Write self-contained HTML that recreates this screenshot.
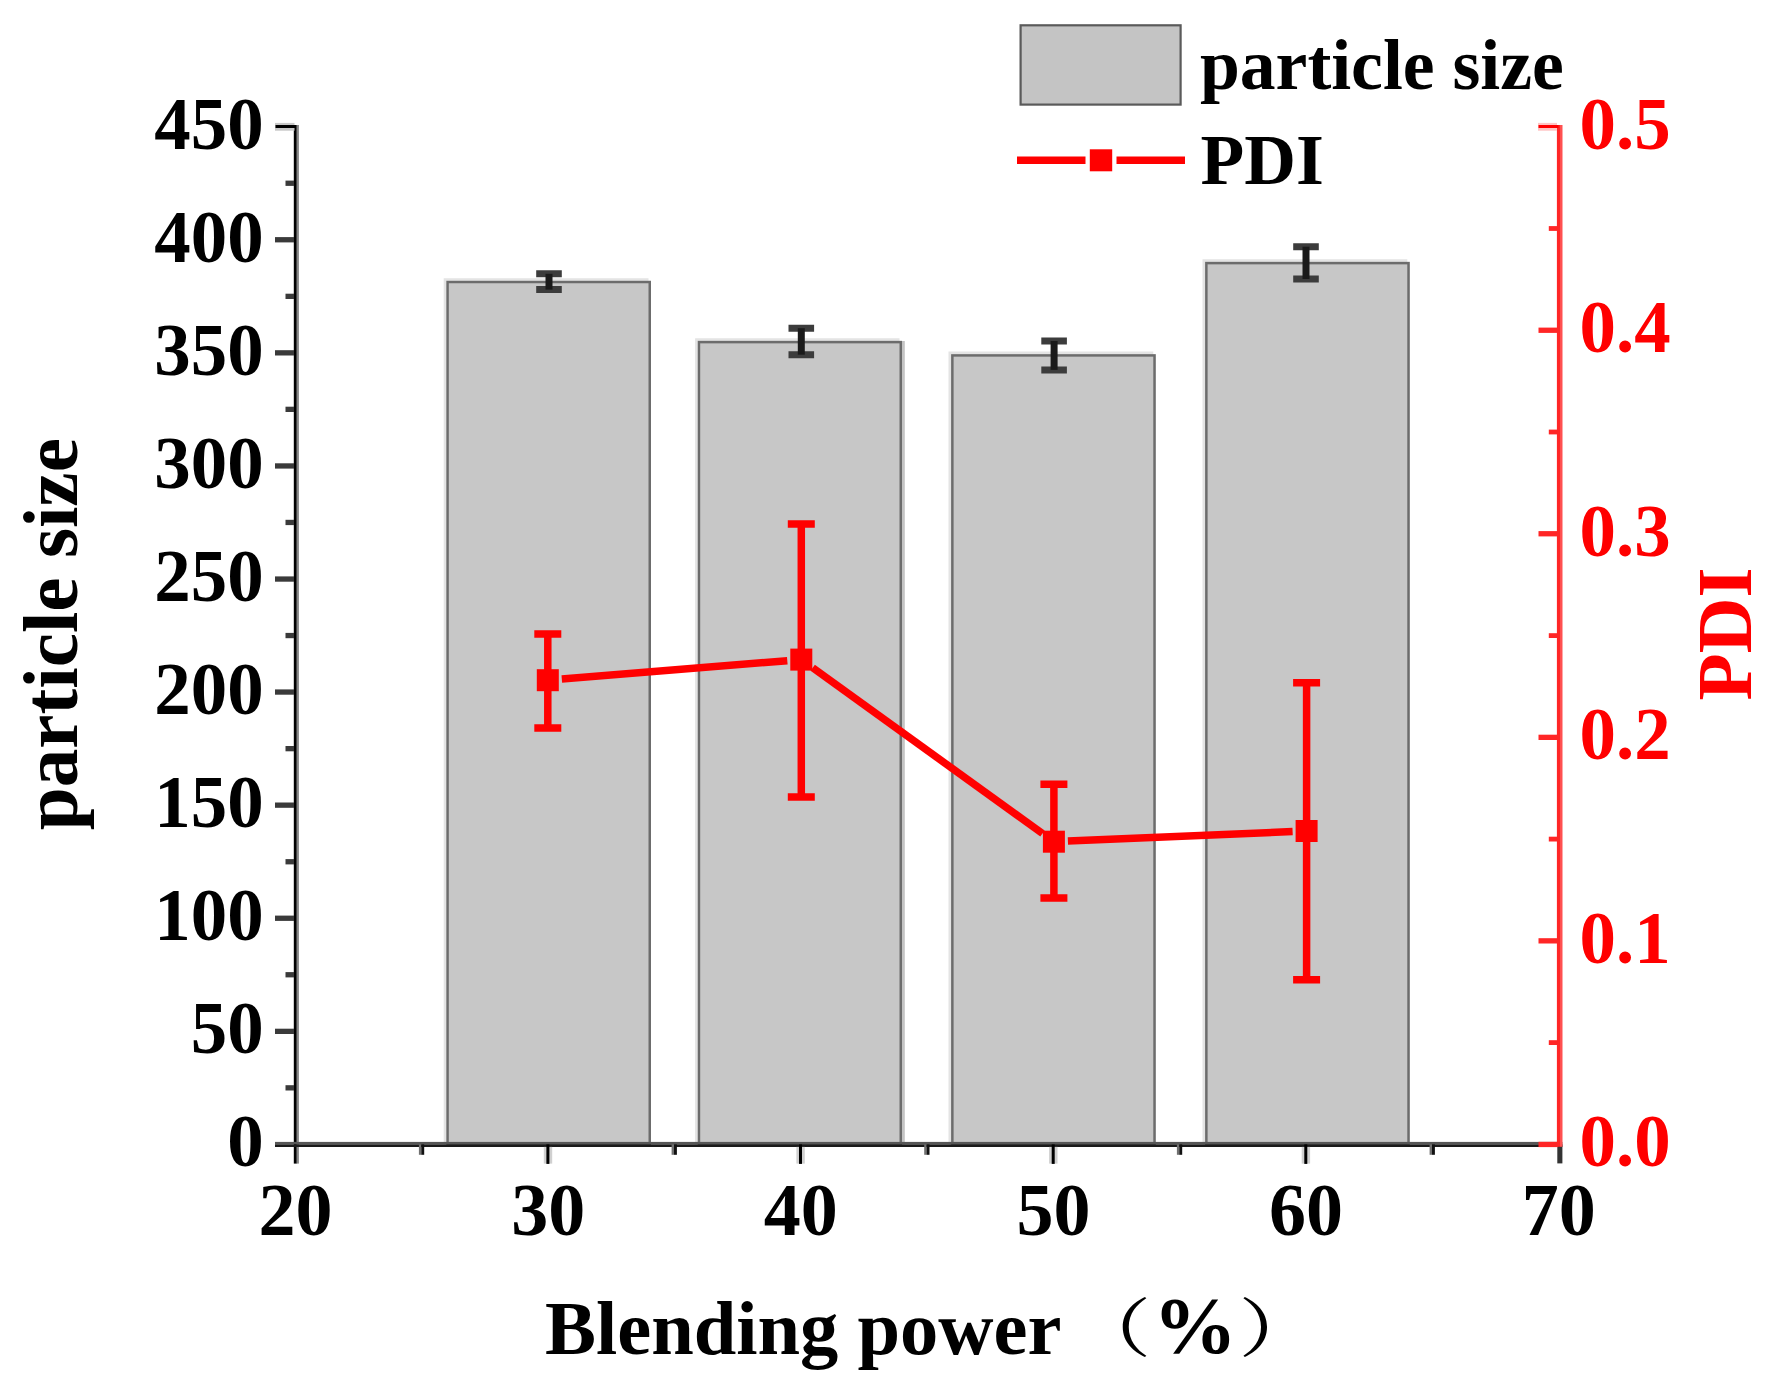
<!DOCTYPE html>
<html lang="en"><head><meta charset="utf-8"><title>Blending power chart</title>
<style>
html,body{margin:0;padding:0;background:#fff;}
body{width:1778px;height:1374px;overflow:hidden;}
svg{display:block;}
text{font-family:"Liberation Serif","Noto Serif CJK SC",serif;font-weight:bold;}
.cjk{font-family:"Noto Serif CJK SC","Noto Sans CJK SC",serif;font-weight:500;}
</style></head><body>
<svg width="1778" height="1374" viewBox="0 0 1778 1374">
<rect x="0" y="0" width="1778" height="1374" fill="#fff"/>

<g fill="none" stroke="#e4e4e4" stroke-width="2.6">
<path d="M445.0 1144.4V279.5H648.5"/>
<path d="M696.4 1144.4V339.6H899.5"/>
<path d="M949.8 1144.4V352.9H1153.3"/>
<path d="M1203.8 1144.4V260.6H1407.3"/>
</g>
<g fill="#c7c7c7" stroke="#6c6c6c" stroke-width="2.5">
<rect x="447.55" y="282.0" width="202.20" height="862.4"/>
<rect x="698.95" y="342.1" width="201.80" height="802.3"/>
<rect x="952.35" y="355.4" width="202.20" height="789.0"/>
<rect x="1206.35" y="263.1" width="202.20" height="881.3"/>
</g>
<rect x="902" y="341" width="2.8" height="803.4" fill="#c4c4c4"/>
<g fill="none">
<path d="M536.2 273.8H561.8M536.2 289.6H561.8" stroke="#3c3c3c" stroke-width="7"/>
<path d="M549.0 273.8V289.6" stroke="#1a1a1a" stroke-width="7"/>
<path d="M788.5 328.2H814.1M788.5 354.7H814.1" stroke="#3c3c3c" stroke-width="7"/>
<path d="M801.3 328.2V354.7" stroke="#1a1a1a" stroke-width="7"/>
<path d="M1041.3 341.0H1066.9M1041.3 369.9H1066.9" stroke="#3c3c3c" stroke-width="7"/>
<path d="M1054.1 341.0V369.9" stroke="#1a1a1a" stroke-width="7"/>
<path d="M1293.2 246.7H1318.8M1293.2 279.0H1318.8" stroke="#3c3c3c" stroke-width="7"/>
<path d="M1306.0 246.7V279.0" stroke="#1a1a1a" stroke-width="7"/>
</g>
<rect x="293.8" y="125.0" width="3" height="1038.6" fill="#000"/>
<rect x="296.8" y="125.0" width="2.1" height="1038.6" fill="#858585"/>
<rect x="275" y="122.9" width="19.5" height="7.8" fill="#c8c8c8"/>
<rect x="275.5" y="125.0" width="20" height="3.0" fill="#000"/>
<rect x="275" y="1141.9" width="1287.4" height="2.6" fill="#565656"/>
<rect x="275" y="1144.4" width="1287.4" height="2.6" fill="#1a1a1a"/>
<g fill="#3a3a3a">
<rect x="285.5" y="1085.2" width="8.5" height="5.3"/>
<rect x="275" y="1028.7" width="19" height="5.3"/>
<rect x="285.5" y="972.1" width="8.5" height="5.3"/>
<rect x="275" y="915.6" width="19" height="5.3"/>
<rect x="285.5" y="859.1" width="8.5" height="5.3"/>
<rect x="275" y="802.5" width="19" height="5.3"/>
<rect x="285.5" y="746.0" width="8.5" height="5.3"/>
<rect x="275" y="689.4" width="19" height="5.3"/>
<rect x="285.5" y="632.9" width="8.5" height="5.3"/>
<rect x="275" y="576.4" width="19" height="5.3"/>
<rect x="285.5" y="519.8" width="8.5" height="5.3"/>
<rect x="275" y="463.3" width="19" height="5.3"/>
<rect x="285.5" y="406.7" width="8.5" height="5.3"/>
<rect x="275" y="350.2" width="19" height="5.3"/>
<rect x="285.5" y="293.7" width="8.5" height="5.3"/>
<rect x="275" y="237.1" width="19" height="5.3"/>
<rect x="285.5" y="180.6" width="8.5" height="5.3"/>
</g>
<rect x="543.8" y="1146.9" width="8.4" height="16.7" fill="#d0d0d0"/>
<rect x="546.4" y="1144.4" width="3.0" height="19.5" fill="#000"/>
<rect x="796.4" y="1146.9" width="8.4" height="16.7" fill="#d0d0d0"/>
<rect x="799.0" y="1144.4" width="3.0" height="19.5" fill="#000"/>
<rect x="1049.1" y="1146.9" width="8.4" height="16.7" fill="#d0d0d0"/>
<rect x="1051.7" y="1144.4" width="3.0" height="19.5" fill="#000"/>
<rect x="1301.7" y="1146.9" width="8.4" height="16.7" fill="#d0d0d0"/>
<rect x="1304.3" y="1144.4" width="3.0" height="19.5" fill="#000"/>
<rect x="1557.3" y="1144.4" width="5.1" height="19.0" fill="#333"/>
<rect x="418.9" y="1144.4" width="2.5" height="10.4" fill="#707070"/>
<rect x="421.3" y="1144.4" width="2.9" height="10.4" fill="#111"/>
<rect x="671.6" y="1144.4" width="2.5" height="10.4" fill="#707070"/>
<rect x="674.0" y="1144.4" width="2.9" height="10.4" fill="#111"/>
<rect x="924.2" y="1144.4" width="2.5" height="10.4" fill="#707070"/>
<rect x="926.6" y="1144.4" width="2.9" height="10.4" fill="#111"/>
<rect x="1176.9" y="1144.4" width="2.5" height="10.4" fill="#707070"/>
<rect x="1179.3" y="1144.4" width="2.9" height="10.4" fill="#111"/>
<rect x="1429.6" y="1144.4" width="2.5" height="10.4" fill="#707070"/>
<rect x="1432.0" y="1144.4" width="2.9" height="10.4" fill="#111"/>
<rect x="1560" y="125.0" width="2.5" height="1021.8" fill="#ff5050"/>
<g fill="#ff2626">
<rect x="1556.9" y="125.0" width="3.1" height="1021.8"/>
<rect x="1538" y="122.9" width="19" height="7.8" fill="#ffc4c4"/>
<rect x="1538.5" y="125.0" width="20" height="3.0" fill="#ff0000"/>
<rect x="1538.5" y="1141.8" width="19.5" height="5.3"/>
<rect x="1548.8" y="1040.2" width="8.5" height="4.8"/>
<rect x="1538.5" y="938.2" width="19.5" height="5.3"/>
<rect x="1548.8" y="836.7" width="8.5" height="4.8"/>
<rect x="1538.5" y="734.7" width="19.5" height="5.3"/>
<rect x="1548.8" y="633.2" width="8.5" height="4.8"/>
<rect x="1538.5" y="531.1" width="19.5" height="5.3"/>
<rect x="1548.8" y="429.6" width="8.5" height="4.8"/>
<rect x="1538.5" y="327.6" width="19.5" height="5.3"/>
<rect x="1548.8" y="226.1" width="8.5" height="4.8"/>
</g>
<g stroke="#ff0000" stroke-width="7.5" fill="none">
<line x1="561.8" y1="679.1" x2="787.3" y2="660.7"/>
<line x1="812.7" y1="667.8" x2="1042.5" y2="833.5"/>
<line x1="1067.9" y1="841.1" x2="1292.6" y2="831.6"/>
<path d="M534.3 634.0H561.3M534.3 728.0H561.3M547.8 634.0V728.0"/>
<path d="M787.8 524.0H814.8M787.8 797.0H814.8M801.3 524.0V797.0"/>
<path d="M1040.4 784.2H1067.4M1040.4 898.0H1067.4M1053.9 784.2V898.0"/>
<path d="M1293.1 682.7H1320.1M1293.1 979.8H1320.1M1306.6 682.7V979.8"/>
</g>
<g fill="#ff0000">
<rect x="536.8" y="669.2" width="22" height="22"/>
<rect x="790.3" y="648.6" width="22" height="22"/>
<rect x="1042.9" y="830.7" width="22" height="22"/>
<rect x="1295.6" y="820.0" width="22" height="22"/>
</g>
<rect x="1020.6" y="25.3" width="160" height="79.3" fill="#c4c4c4" stroke="#5a5a5a" stroke-width="2.2"/>
<path d="M1017 160.3H1085.5M1116.5 160.3H1185" stroke="#ff0000" stroke-width="7.5" fill="none"/>
<rect x="1089.8" y="149.3" width="22.4" height="22" fill="#ff0000"/>
<text transform="translate(1200.0 88.5)" font-size="71.6" fill="#000">particle size</text>
<text transform="translate(1200.5 184.0)" font-size="71.6" fill="#000">PDI</text>
<text transform="translate(263.6 1166.4) scale(0.985 1)" font-size="74" fill="#000" text-anchor="end">0</text>
<text transform="translate(263.6 1053.3) scale(0.985 1)" font-size="74" fill="#000" text-anchor="end">50</text>
<text transform="translate(263.6 940.2) scale(0.985 1)" font-size="74" fill="#000" text-anchor="end">100</text>
<text transform="translate(263.6 827.2) scale(0.985 1)" font-size="74" fill="#000" text-anchor="end">150</text>
<text transform="translate(263.6 714.1) scale(0.985 1)" font-size="74" fill="#000" text-anchor="end">200</text>
<text transform="translate(263.6 601.0) scale(0.985 1)" font-size="74" fill="#000" text-anchor="end">250</text>
<text transform="translate(263.6 487.9) scale(0.985 1)" font-size="74" fill="#000" text-anchor="end">300</text>
<text transform="translate(263.6 374.8) scale(0.985 1)" font-size="74" fill="#000" text-anchor="end">350</text>
<text transform="translate(263.6 261.8) scale(0.985 1)" font-size="74" fill="#000" text-anchor="end">400</text>
<text transform="translate(263.6 148.7) scale(0.985 1)" font-size="74" fill="#000" text-anchor="end">450</text>
<text transform="translate(295.5 1235.0)" font-size="74" fill="#000" text-anchor="middle">20</text>
<text transform="translate(548.2 1235.0)" font-size="74" fill="#000" text-anchor="middle">30</text>
<text transform="translate(800.8 1235.0)" font-size="74" fill="#000" text-anchor="middle">40</text>
<text transform="translate(1053.5 1235.0)" font-size="74" fill="#000" text-anchor="middle">50</text>
<text transform="translate(1306.1 1235.0)" font-size="74" fill="#000" text-anchor="middle">60</text>
<text transform="translate(1558.8 1235.0)" font-size="74" fill="#000" text-anchor="middle">70</text>
<text transform="translate(1579.5 1166.4) scale(0.985 1)" font-size="74" fill="#ff0000">0.0</text>
<text transform="translate(1579.5 962.9) scale(0.985 1)" font-size="74" fill="#ff0000">0.1</text>
<text transform="translate(1579.5 759.3) scale(0.985 1)" font-size="74" fill="#ff0000">0.2</text>
<text transform="translate(1579.5 555.8) scale(0.985 1)" font-size="74" fill="#ff0000">0.3</text>
<text transform="translate(1579.5 352.2) scale(0.985 1)" font-size="74" fill="#ff0000">0.4</text>
<text transform="translate(1579.5 148.7) scale(0.985 1)" font-size="74" fill="#ff0000">0.5</text>
<text transform="translate(545.0 1353.5)" font-size="76.5" fill="#000">Blending power</text>
<text transform="translate(1070.0 1350.5) scale(1.27 1)" font-size="64" fill="#000" class="cjk">（</text>
<text transform="translate(1153.0 1352.5) scale(1.05 1)" font-size="80" fill="#000">%</text>
<text transform="translate(1238.5 1350.5) scale(1.27 1)" font-size="64" fill="#000" class="cjk">）</text>
<text transform="translate(77.3 830.3) rotate(-90)" font-size="77.2" fill="#000">particle size</text>
<text transform="translate(1751.3 700.5) rotate(-90)" font-size="77.2" fill="#ff0000">PDI</text>
</svg></body></html>
